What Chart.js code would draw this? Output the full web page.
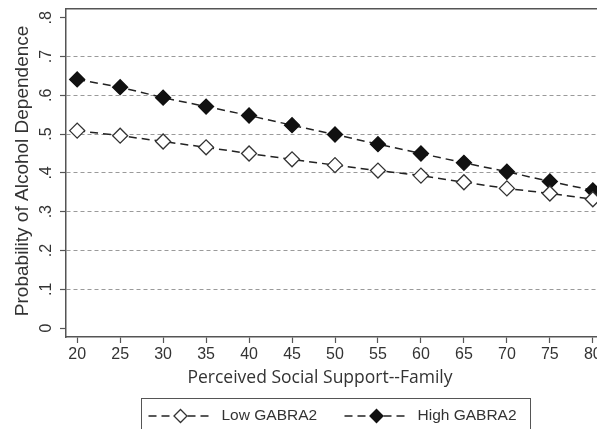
<!DOCTYPE html>
<html>
<head>
<meta charset="utf-8">
<script src="https://cdn.jsdelivr.net/npm/chart.js@4.4.1/dist/chart.umd.min.js"></script>
<style>
  html, body { margin: 0; padding: 0; background: #fff; }
  #frame { position: relative; width: 597px; height: 429px; overflow: hidden; }
  #chart { position: absolute; left: 0; top: 0; }
</style>
</head>
<body>
<div id="frame"><canvas id="chart" width="620" height="445"></canvas></div>
<script>
// Perceived family support scores on the x axis
const supportScores = [20, 25, 30, 35, 40, 45, 50, 55, 60, 65, 70, 75, 80];
// Predicted probability of alcohol dependence by GABRA2 group
const lowGabra2  = [0.509, 0.496, 0.481, 0.466, 0.450, 0.435, 0.420, 0.406, 0.393, 0.376, 0.360, 0.347, 0.332];
const highGabra2 = [0.641, 0.621, 0.594, 0.571, 0.548, 0.523, 0.499, 0.474, 0.450, 0.426, 0.403, 0.378, 0.355];
// Axis tick labels
const xTicks = [20, 25, 30, 35, 40, 45, 50, 55, 60, 65, 70, 75, 80];
const yTicks = [0, 0.1, 0.2, 0.3, 0.4, 0.5, 0.6, 0.7, 0.8];
const yTickLabels = ['0', '.1', '.2', '.3', '.4', '.5', '.6', '.7', '.8'];
const seriesNames = ['Low GABRA2', 'High GABRA2'];
const xTitle = 'Perceived Social Support--Family';
const yTitle = 'Probability of Alcohol Dependence';

const AXIS = '#555555';
const TEXT = '#333333';
const SANS = '"Liberation Sans", Arial, sans-serif';

const toPoints = vals => supportScores.map((x, i) => ({ x: x, y: vals[i] }));

// Frame line along the top of the plot region
const topFrame = {
  id: 'topFrame',
  beforeDatasetsDraw(chart) {
    const { ctx, chartArea: a } = chart;
    ctx.save();
    ctx.strokeStyle = AXIS;
    ctx.lineWidth = 1.5;
    ctx.beginPath();
    ctx.moveTo(a.left, a.top);
    ctx.lineTo(a.right, a.top);
    ctx.stroke();
    ctx.restore();
  }
};

// Rotated y tick labels and both axis titles
const axisText = {
  id: 'axisText',
  afterDraw(chart) {
    const { ctx, chartArea: a, scales } = chart;
    const y = scales.y;
    ctx.save();
    ctx.fillStyle = TEXT;
    ctx.textAlign = 'center';
    ctx.textBaseline = 'middle';
    ctx.font = '16px ' + SANS;
    yTicks.forEach((v, i) => {
      const py = y.getPixelForValue(v);
      ctx.save();
      ctx.translate(a.left - 19, py);
      ctx.rotate(-Math.PI / 2);
      ctx.fillText(yTickLabels[i], 0, 0);
      ctx.restore();
    });
    // y title
    ctx.font = '19px ' + SANS;
    ctx.save();
    ctx.translate(a.left - 43, (a.top + a.bottom) / 2 - 2);
    ctx.rotate(-Math.PI / 2);
    ctx.fillText(yTitle, 0, 0);
    ctx.restore();
    // x title
    ctx.font = '17.5px "Open Sans", ' + SANS;
    ctx.fillText(xTitle, a.left + 254, a.bottom + 41);
    ctx.restore();
  }
};

// Boxed legend below the plot, line samples with centred markers
const boxLegend = {
  id: 'boxLegend',
  afterDraw(chart) {
    const { ctx, chartArea: a } = chart;
    const cx = (a.left + a.right) / 2;
    const boxW = 389, top = a.bottom + 61, boxH = 60;
    const left = cx - boxW / 2;
    ctx.save();
    ctx.strokeStyle = AXIS;
    ctx.lineWidth = 1;
    ctx.strokeRect(Math.round(left) + 0.5, Math.round(top) + 0.5, boxW, boxH);
    const rowY = top + 18;
    const starts = [left + 8, left + 204];
    chart.data.datasets.forEach((ds, i) => {
      const x0 = starts[i];
      const sampleW = 64;
      ctx.save();
      ctx.strokeStyle = ds.borderColor;
      ctx.lineWidth = ds.borderWidth;
      ctx.setLineDash(ds.borderDash);
      ctx.beginPath();
      ctx.moveTo(x0, rowY);
      ctx.lineTo(x0 + sampleW, rowY);
      ctx.stroke();
      ctx.restore();
      ctx.save();
      ctx.fillStyle = ds.pointBackgroundColor;
      ctx.strokeStyle = ds.pointBorderColor;
      ctx.lineWidth = ds.pointBorderWidth;
      Chart.helpers.drawPoint(ctx, { pointStyle: 'rectRot', radius: 6.5, rotation: 0, borderWidth: ds.pointBorderWidth }, x0 + sampleW / 2, rowY);
      ctx.restore();
      ctx.fillStyle = TEXT;
      ctx.font = '15.5px ' + SANS;
      ctx.textAlign = 'left';
      ctx.textBaseline = 'middle';
      ctx.fillText(ds.label, x0 + sampleW + 9, rowY);
    });
    ctx.restore();
  }
};

new Chart(document.getElementById('chart'), {
  type: 'line',
  data: {
    datasets: [
      {
        label: seriesNames[0],
        data: toPoints(lowGabra2),
        borderColor: '#222222',
        borderWidth: 1.5,
        borderDash: [8, 5],
        pointStyle: 'rectRot',
        pointRadius: 7.5,
        pointBackgroundColor: '#ffffff',
        pointBorderColor: '#333333',
        pointBorderWidth: 1.3,
        tension: 0
      },
      {
        label: seriesNames[1],
        data: toPoints(highGabra2),
        borderColor: '#222222',
        borderWidth: 1.5,
        borderDash: [8, 5],
        pointStyle: 'rectRot',
        pointRadius: 7.5,
        pointBackgroundColor: '#111111',
        pointBorderColor: '#111111',
        pointBorderWidth: 1.3,
        tension: 0
      }
    ]
  },
  options: {
    responsive: false,
    animation: false,
    events: [],
    layout: { padding: { top: 7, right: 16, left: 0, bottom: 0 } },
    plugins: { legend: { display: false }, tooltip: { enabled: false } },
    scales: {
      x: {
        type: 'linear',
        min: 18.7,
        max: 81.3,
        afterBuildTicks: s => { s.ticks = xTicks.map(v => ({ value: v })); },
        afterFit: s => { s.height = 108; },
        grid: { drawOnChartArea: false, drawTicks: true, tickLength: 6, tickColor: AXIS, tickWidth: 1.2 },
        border: { display: true, color: AXIS, width: 1.5 },
        ticks: { color: TEXT, font: { family: SANS, size: 16 }, padding: 2, maxRotation: 0, autoSkip: false }
      },
      y: {
        type: 'linear',
        min: -0.0231,
        max: 0.8231,
        afterBuildTicks: s => { s.ticks = yTicks.map(v => ({ value: v })); },
        afterFit: s => { s.width = 66; },
        grid: {
          drawOnChartArea: true,
          drawTicks: true,
          tickLength: 6,
          tickWidth: 1.2,
          tickColor: AXIS,
          lineWidth: 1,
          color: c => (c.tick && c.tick.value > 0.05 && c.tick.value < 0.75) ? '#9a9a9a' : 'rgba(0,0,0,0)'
        },
        border: { display: true, color: AXIS, width: 1.5, dash: [4, 3] },
        ticks: { display: false }
      }
    }
  },
  plugins: [topFrame, axisText, boxLegend]
});
</script>
</body>
</html>
